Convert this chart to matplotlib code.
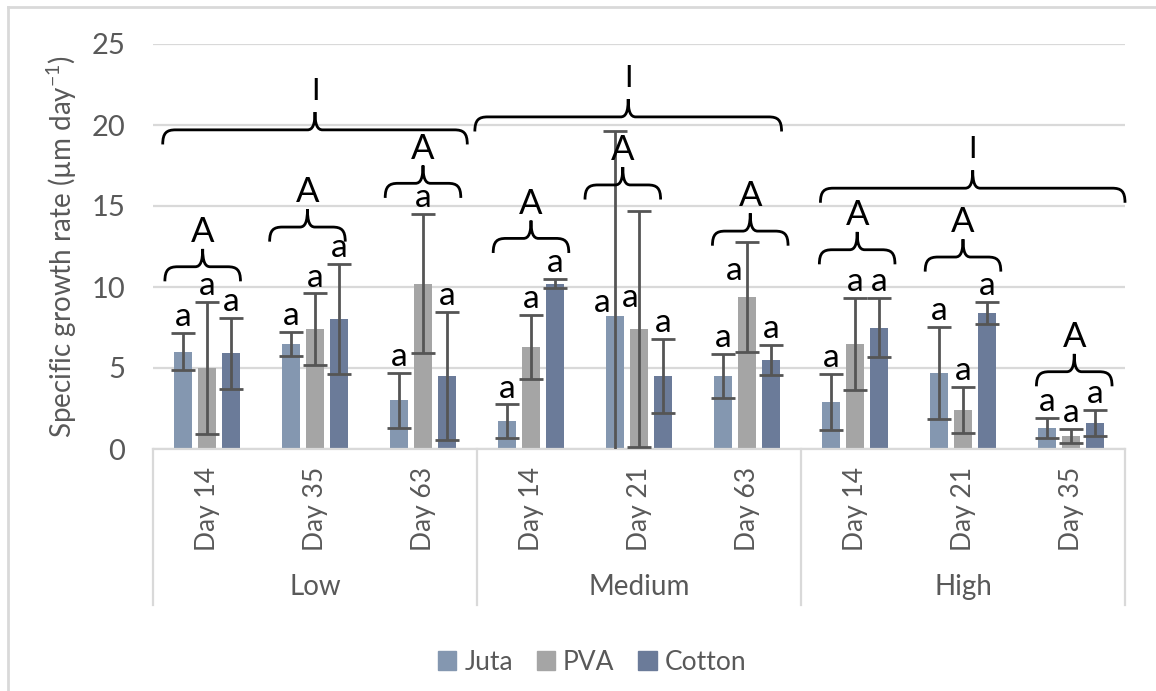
import matplotlib
matplotlib.use("Agg")
import matplotlib.pyplot as plt
from matplotlib.path import Path
from matplotlib.patches import PathPatch, Patch
from matplotlib.lines import Line2D

plt.rcParams['font.family'] = ['Lato', 'DejaVu Sans']
plt.rcParams['mathtext.fontset'] = 'custom'
plt.rcParams['mathtext.rm'] = 'Lato'
plt.rcParams['mathtext.it'] = 'Lato:italic'

# growth rate per fibre type, 9 sampling points (3 per level)
levels = ['Low', 'Medium', 'High']
days = ['Day 14', 'Day 35', 'Day 63',
        'Day 14', 'Day 21', 'Day 63',
        'Day 14', 'Day 21', 'Day 35']
series = ['Juta', 'PVA', 'Cotton']

juta = [6.0, 6.5, 3.0, 1.7, 8.2, 4.5, 2.9, 4.7, 1.3]
juta_err = [1.15, 0.75, 1.7, 1.05, 11.4, 1.35, 1.75, 2.85, 0.6]
pva = [5.0, 7.4, 10.2, 6.3, 7.4, 9.4, 6.5, 2.4, 0.8]
pva_err = [4.05, 2.2, 4.3, 1.95, 7.3, 3.4, 2.85, 1.4, 0.43]
cotton = [5.9, 8.0, 4.5, 10.2, 4.5, 5.5, 7.5, 8.4, 1.6]
cotton_err = [2.2, 3.4, 3.95, 0.28, 2.3, 0.93, 1.8, 0.66, 0.8]

bar_letters = ['a'] * 9
day_letters = ['A'] * 9
level_letters = ['I', 'I', 'I']

colors = ['#8497B0', '#A5A5A5', '#6B7B99']
grid_c = '#D9D9D9'
text_c = '#595959'

# where the comparison braces sit
day_brace_y = [11.25, 13.7, 16.4, 13.0, 16.3, 13.45, 12.3, 11.85, 4.77]
day_brace_dx = [-0.04, -0.07, 0.0, 0.0, -0.15, 0.03, 0.02, 0.0, 0.03]
level_brace_x = [(-0.41, 2.41), (2.48, 5.32), (5.68, 8.5)]
level_brace_y = [19.7, 20.5, 16.1]
# letters moved by hand where error bars are too tall
label_moves = {(4, 0): (-0.12, 8.45), (4, 1): (-0.08, 8.75), (5, 1): (-0.12, 10.45)}

fig = plt.figure(figsize=(11.56, 6.91), dpi=100)
ax = fig.add_axes([153 / 1156, 1 - 449 / 691, 972 / 1156, 405 / 691])

x = list(range(len(days)))
offsets = [-0.222, 0.0, 0.222]
width = 0.172
vals = [juta, pva, cotton]
errs = [juta_err, pva_err, cotton_err]

for s in range(3):
    xs = [i + offsets[s] for i in x]
    ax.bar(xs, vals[s], width, color=colors[s], zorder=2, label=series[s])
    ax.errorbar(xs, vals[s], yerr=errs[s], fmt='none', ecolor='#555555',
                elinewidth=2.0, capsize=8.5, capthick=2.0, zorder=3)
    for i in x:
        if (i, s) in label_moves:
            dx, ly = label_moves[(i, s)]
            ax.text(xs[i] + dx, ly, bar_letters[i], ha='center', va='baseline',
                    fontsize=24, zorder=4)
        else:
            ax.annotate(bar_letters[i], (xs[i], vals[s][i] + errs[s][i]),
                        xytext=(0, 5), textcoords='offset points',
                        ha='center', va='baseline', fontsize=24, zorder=4)


def brace(ax, x0, x1, y, drop=0.9, rise=1.1, cw=0.12, mw=0.07):
    xc = (x0 + x1) / 2
    verts = [(x0, y - drop), (x0, y - 0.2 * drop), (x0 + 0.3 * cw, y), (x0 + cw, y),
             (xc - mw, y),
             (xc - 0.3 * mw, y), (xc, y + 0.3 * rise), (xc, y + rise),
             (xc, y + 0.3 * rise), (xc + 0.3 * mw, y), (xc + mw, y),
             (x1 - cw, y),
             (x1 - 0.3 * cw, y), (x1, y - 0.2 * drop), (x1, y - drop)]
    codes = [Path.MOVETO, Path.CURVE4, Path.CURVE4, Path.CURVE4, Path.LINETO,
             Path.CURVE4, Path.CURVE4, Path.CURVE4,
             Path.CURVE4, Path.CURVE4, Path.CURVE4, Path.LINETO,
             Path.CURVE4, Path.CURVE4, Path.CURVE4]
    ax.add_patch(PathPatch(Path(verts, codes), fill=False, lw=2.0,
                           edgecolor='black', zorder=5, clip_on=False))
    return xc, y + rise


for i in x:
    c = i + day_brace_dx[i]
    bx, by = brace(ax, c - 0.35, c + 0.35, day_brace_y[i])
    ax.annotate(day_letters[i], (bx, by), xytext=(0, 5), textcoords='offset points',
                ha='center', va='baseline', fontsize=25, zorder=5)

for g in range(3):
    x0, x1 = level_brace_x[g]
    bx, by = brace(ax, x0, x1, level_brace_y[g])
    ax.annotate(level_letters[g], (bx, by), xytext=(0, 9), textcoords='offset points',
                ha='center', va='baseline', fontsize=22, zorder=5)

ax.set_xlim(-0.5, 8.5)
ax.set_ylim(0, 25)
ax.set_yticks([0, 5, 10, 15, 20, 25])
ax.tick_params(axis='y', length=0, pad=20, labelsize=21, labelcolor=text_c)
ax.set_xticks([])
ax.yaxis.grid(True, color=grid_c, lw=1.6, zorder=0)
ax.set_axisbelow(True)
for side in ['top', 'right', 'left']:
    ax.spines[side].set_visible(False)
ax.spines['bottom'].set_color(grid_c)
ax.spines['bottom'].set_linewidth(1.6)

ax.set_ylabel('Specific growth rate (µm day$^{\\mathregular{-1}}$)', fontsize=20,
              color=text_c)
ax.yaxis.set_label_coords(-0.076, 0.5)

# two-level category axis
trans = ax.get_xaxis_transform()
for i in x:
    ax.text(i, -0.045, days[i], rotation=90, ha='center', va='top',
            fontsize=19, color=text_c, transform=trans)
for g in range(3):
    ax.text(3 * g + 1, -0.34, levels[g], ha='center', va='center',
            fontsize=20, color=text_c, transform=trans)
for b in [-0.5, 2.5, 5.5, 8.5]:
    ax.plot([b, b], [0, -0.385], color=grid_c, lw=1.6, transform=trans,
            clip_on=False)

handles = [Patch(color=colors[s]) for s in range(3)]
fig.legend(handles, series, loc='center', bbox_to_anchor=(592 / 1156, 1 - 662 / 691),
           ncol=3, frameon=False, fontsize=19, labelcolor=text_c,
           handlelength=0.7, handleheight=0.7, handletextpad=0.3, columnspacing=0.9)

# chart area border
fig.add_artist(Line2D([8 / 1156, 1], [1 - 7 / 691, 1 - 7 / 691], color=grid_c, lw=2))
fig.add_artist(Line2D([8 / 1156, 8 / 1156], [0, 1 - 7 / 691], color=grid_c, lw=2))

fig.savefig('out.png', dpi=100)
